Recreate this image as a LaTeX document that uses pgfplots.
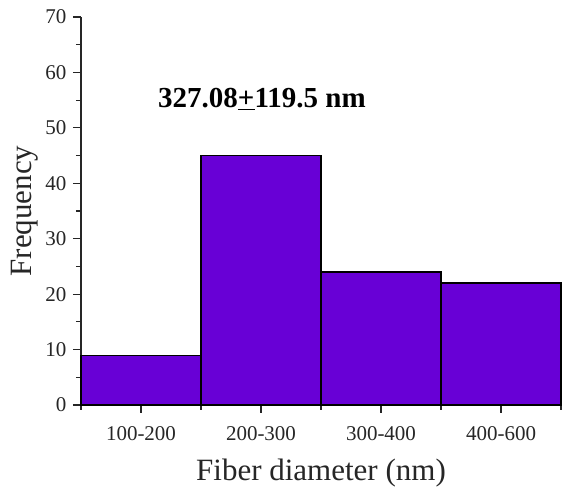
\documentclass[border=0pt]{standalone}
\usepackage{pgfplots}
\pgfplotsset{compat=1.18}
\usepackage{fontspec}
\setmainfont{Liberation Serif}
\definecolor{barpurple}{RGB}{104,0,214}
\begin{document}
\begin{tikzpicture}
\begin{axis}[
  scale only axis,
  width=480bp, height=388bp,
  ymin=0, ymax=70,
  xmin=-0.5, xmax=3.5,
  axis lines*=left,
  axis line style={line width=1.4pt, black!85},
  tick align=outside,
  ytick={0,10,...,70},
  minor ytick={5,15,...,65},
  xtick={0,1,2,3},
  xticklabels={100-200,200-300,300-400,400-600},
  minor xtick={-0.5,0.5,1.5,2.5,3.5},
  major tick length=8bp,
  minor tick length=5bp,
  every tick/.style={line width=1.2pt, black!85},
  /pgf/number format/assume math mode=true,
  tick label style={font=\fontsize{21bp}{23bp}\selectfont, black!85},
  yticklabel style={xshift=-3bp},
  xticklabel style={anchor=base, yshift=-28bp},
  ylabel={Frequency},
  xlabel={Fiber diameter (nm)},
  label style={font=\fontsize{31bp}{34bp}\selectfont, black!85},
  ylabel style={at={(rel axis cs:0,0.5)}, anchor=center, yshift=56bp},
  xlabel style={at={(rel axis cs:0.5,0)}, anchor=base, yshift=-76bp},
  clip=false,
]
\addplot[ybar, bar width=1, fill=barpurple, draw=black, line width=1.2pt]
  coordinates {(0,9) (1,45) (2,24) (3,22)};
\node[font=\bfseries\fontsize{29bp}{31bp}\selectfont, anchor=base] at (axis cs:1.008,53.6) {327.08\underline{+}119.5 nm};
\coordinate (bl) at (rel axis cs:0,0);
\coordinate (tr) at (rel axis cs:1,1);
\end{axis}
\pgfresetboundingbox
\path[use as bounding box] ([shift={(-81bp,-91bp)}]bl) rectangle ([shift={(12bp,17bp)}]tr);
\end{tikzpicture}
\end{document}
